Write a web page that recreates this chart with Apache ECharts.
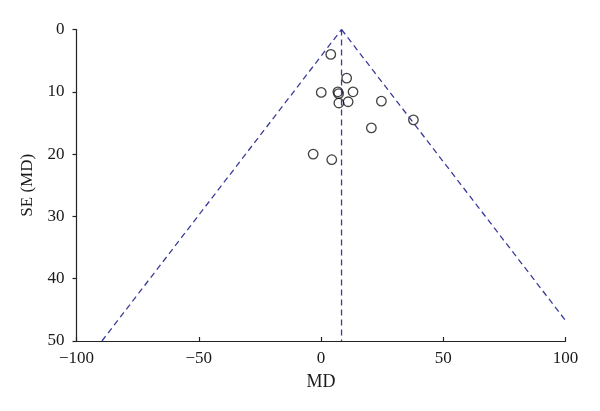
<!DOCTYPE html>
<html>
<head>
<meta charset="utf-8">
<script src="https://cdn.jsdelivr.net/npm/echarts@6/dist/echarts.min.js"></script>
<style>html,body{margin:0;padding:0;background:#fff}#c{width:600px;height:411px}</style>
</head>
<body>
<div id="c"></div>
<script>
// Study points: [MD, SE(MD)]
const studyMD = [4.0, 10.5, 0.1, 6.9, 7.2, 13.1, 7.3, 11.1, 24.7, 37.8, 20.6, -3.2, 4.4];
const studySE = [4.0, 7.8, 10.1, 10.0, 10.3, 10.0, 11.8, 11.6, 11.5, 14.5, 15.8, 20.0, 20.9];
// Pooled estimate (vertical line)
const pooledMD = 8.4;
const seRange = [0, 50];
// Funnel limits endpoints [MD, SE]
const funnelLeft = [[-89.6, 50], [8.4, 0]];
const funnelRight = [[8.4, 0], [100, 46.7]];
const xTicks = [-100, -50, 0, 50, 100];
const yTicks = [0, 10, 20, 30, 40, 50];

const FONT = '"Liberation Serif", "DejaVu Serif", serif';
const LINE = '#3b3b9b';
const TXT = '#1a1a1a';
const minus = v => String(v).replace('-', '\u2212');
const chart = echarts.init(document.getElementById('c'), null, {renderer: 'canvas'});
chart.setOption({
  animation: false,
  backgroundColor: '#fff',
  grid: {left: 76.5, right: 34.5, top: 29.5, bottom: 70, containLabel: false},
  xAxis: {
    type: 'value', position: 'bottom', min: xTicks[0], max: xTicks[xTicks.length - 1], interval: 50,
    name: 'MD', nameLocation: 'middle', nameGap: 32,
    nameTextStyle: {fontFamily: FONT, fontSize: 18, color: TXT},
    axisLine: {onZero: false, lineStyle: {color: '#222', width: 1.2}},
    axisTick: {inside: true, length: 4, lineStyle: {color: '#222', width: 1.2}},
    axisLabel: {fontFamily: FONT, fontSize: 17, color: TXT, margin: 9, formatter: minus},
    splitLine: {show: false}
  },
  yAxis: {
    type: 'value', position: 'left', inverse: true, min: yTicks[0], max: yTicks[yTicks.length - 1], interval: 10,
    name: 'SE (MD)', nameLocation: 'middle', nameGap: 40, nameRotate: 90,
    nameTextStyle: {fontFamily: FONT, fontSize: 17, color: TXT},
    axisLine: {show: true, onZero: false, lineStyle: {color: '#222', width: 1.2}},
    axisTick: {show: true, inside: false, length: 4, lineStyle: {color: '#222', width: 1.2}},
    axisLabel: {fontFamily: FONT, fontSize: 17, color: TXT, margin: 12},
    splitLine: {show: false}
  },
  series: [
    {
      type: 'line', data: funnelLeft, symbol: 'none', silent: true,
      lineStyle: {color: LINE, width: 1.3, type: [6, 4]}
    },
    {
      type: 'line', data: funnelRight, symbol: 'none', silent: true,
      lineStyle: {color: LINE, width: 1.3, type: [6, 4]}
    },
    {
      type: 'line', data: [[pooledMD, seRange[0]], [pooledMD, seRange[1]]], symbol: 'none', silent: true,
      lineStyle: {color: LINE, width: 1.3, type: [6, 4]}
    },
    {
      type: 'scatter', data: studyMD.map((m, i) => [m, studySE[i]]),
      symbol: 'circle', symbolSize: 9.5,
      itemStyle: {color: 'rgba(255,255,255,0)', borderColor: '#111', borderWidth: 1.3}
    }
  ]
});
</script>
</body>
</html>
